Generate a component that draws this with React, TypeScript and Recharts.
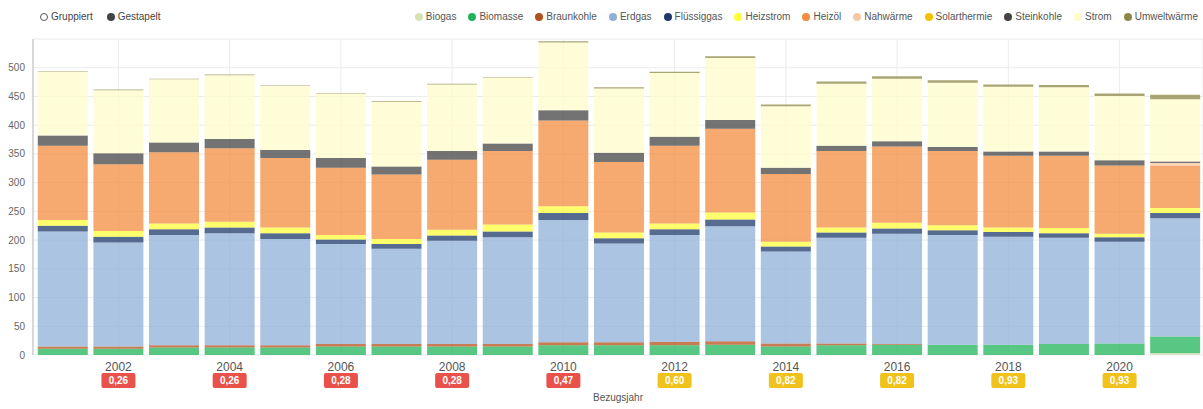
import { BarChart, Bar, XAxis, YAxis, CartesianGrid, Label } from "recharts"

// Bezugsjahre 2001 - 2021
const years = [
  "2001", "2002", "2003", "2004", "2005", "2006", "2007", "2008", "2009", "2010", "2011",
  "2012", "2013", "2014", "2015", "2016", "2017", "2018", "2019", "2020", "2021",
]

// Werte je Energieträger (von unten nach oben gestapelt)
const biogas       = [0, 0, 0, 0, 0, 0, 0, 0, 0, 0, 0, 0, 0, 0, 0, 0, 0, 0, 0, 0, 3]
const biomasse     = [11, 11, 13, 13, 13, 15, 15, 15, 15, 17, 17, 17, 18, 15, 17, 18, 18, 18, 19, 20, 29]
const braunkohle   = [4, 4, 4, 4, 4, 4, 4, 4, 4, 5, 5, 6, 6, 5, 3, 1, 0, 0, 0, 0, 0]
const erdgas       = [200, 181, 192, 195, 185, 174, 166, 180, 186, 213, 172, 186, 200, 160, 184, 192, 191, 188, 185, 177, 206]
const fluessiggas  = [10, 10, 10, 10, 10, 8, 8, 9, 10, 12, 9, 10, 12, 9, 9, 9, 8, 8, 8, 8, 9]
const heizstrom    = [10, 10, 10, 10, 10, 8, 9, 10, 12, 12, 10, 10, 12, 8, 9, 10, 9, 8, 9, 6, 9]
const heizoel      = [129, 116, 124, 128, 121, 117, 112, 122, 128, 149, 123, 135, 146, 118, 133, 133, 129, 125, 126, 119, 74]
const nahwaerme    = [0, 0, 0, 0, 0, 0, 0, 0, 0, 0, 0, 0, 0, 0, 0, 0, 0, 0, 0, 0, 4]
const solarthermie = [0, 0, 0, 0, 0, 0, 0, 0, 0, 0, 0, 0, 0, 0, 0, 0, 0, 0, 0, 0, 0]
const steinkohle   = [18, 19, 17, 16, 14, 17, 14, 15, 13, 18, 16, 16, 15, 11, 9, 9, 7, 7, 7, 9, 3]
const strom        = [111, 110, 110, 111, 111, 112, 113, 116, 115, 118, 112, 111, 108, 107, 108, 109, 112, 113, 112, 112, 108]
const umweltwaerme = [1, 1, 1, 1, 1, 1, 1, 1, 1, 2, 2, 2, 3, 3, 4, 4, 4, 4, 4, 4, 8]

// Achsenbeschriftung + Kennzahl-Badges
const tickYears   = ["2002", "2004", "2006", "2008", "2010", "2012", "2014", "2016", "2018", "2020"]
const badgeValues = ["0,26", "0,26", "0,28", "0,28", "0,47", "0,60", "0,82", "0,82", "0,93", "0,93"]
const badgeLevels = ["rot", "rot", "rot", "rot", "rot", "gelb", "gelb", "gelb", "gelb", "gelb"]
const yTicks      = [0, 50, 100, 150, 200, 250, 300, 350, 400, 450, 500]

const SERIES = [
  { name: "Biogas",       color: "#d6e2b4", values: biogas },
  { name: "Biomasse",     color: "#1fb45a", values: biomasse },
  { name: "Braunkohle",   color: "#b4501a", values: braunkohle },
  { name: "Erdgas",       color: "#8fb0d8", values: erdgas },
  { name: "Flüssiggas",   color: "#1e3a6b", values: fluessiggas },
  { name: "Heizstrom",    color: "#ffff3a", values: heizstrom },
  { name: "Heizöl",       color: "#f48d40", values: heizoel },
  { name: "Nahwärme",     color: "#f8c7a3", values: nahwaerme },
  { name: "Solarthermie", color: "#f5c000", values: solarthermie },
  { name: "Steinkohle",   color: "#444444", values: steinkohle },
  { name: "Strom",        color: "#fffcc9", values: strom },
  { name: "Umweltwärme",  color: "#8d8845", values: umweltwaerme },
]

const data = years.map((jahr, i) => {
  const row: Record<string, string | number> = { jahr }
  SERIES.forEach((s) => { row[s.name] = s.values[i] })
  return row
})

const FONT = "'Liberation Sans', Arial, sans-serif"

function YearTick({ x, y, payload }: any) {
  const i = tickYears.indexOf(payload.value)
  const badge = badgeValues[i]
  const fill = badgeLevels[i] === "rot" ? "#e8524a" : "#f0c21c"
  return (
    <g transform={`translate(${x},${y})`}>
      <text y={8} textAnchor="middle" fontSize={12} fill="#555" fontFamily={FONT}>
        {payload.value}
      </text>
      {badge && (
        <>
          <rect x={-17} y={10} width={34} height={15} rx={2} fill={fill} />
          <text y={21} textAnchor="middle" fontSize={10} fontWeight="bold" fill="#fff" fontFamily={FONT}>
            {badge}
          </text>
        </>
      )}
    </g>
  )
}

function Dot({ color, hollow }: { color: string; hollow?: boolean }) {
  return (
    <span
      style={{
        display: "inline-block",
        width: hollow ? 6 : 8,
        height: hollow ? 6 : 8,
        borderRadius: "50%",
        background: hollow ? "#fff" : color,
        border: hollow ? `1.5px solid ${color}` : "none",
        marginRight: 3,
      }}
    />
  )
}

export default function App() {
  return (
    <div style={{ position: "absolute", left: 0, top: 0, width: 1203, height: 409, background: "#fff", fontFamily: FONT }}>
      <div style={{ position: "absolute", left: 40, top: 11, display: "flex", gap: 14, fontSize: 10, color: "#444", alignItems: "center" }}>
        <span style={{ display: "flex", alignItems: "center" }}><Dot color="#555" hollow />Gruppiert</span>
        <span style={{ display: "flex", alignItems: "center" }}><Dot color="#444" />Gestapelt</span>
      </div>
      <div
        style={{
          position: "absolute", right: 5, top: 11, display: "flex", gap: 12,
          fontSize: 10, color: "#555", alignItems: "center",
        }}
      >
        {SERIES.map((s) => (
          <span key={s.name} style={{ display: "flex", alignItems: "center" }}>
            <Dot color={s.color} />{s.name}
          </span>
        ))}
      </div>
      <BarChart
        width={1203}
        height={409}
        data={data}
        barCategoryGap="5%"
        margin={{ top: 39, right: 0, left: 0, bottom: 14 }}
      >
        <CartesianGrid stroke="#ececec" />
        <XAxis
          dataKey="jahr"
          ticks={tickYears}
          interval={0}
          height={40}
          padding={{ left: 2, right: 0 }}
          axisLine={false}
          tickLine={false}
          tick={<YearTick />}
        >
          <Label value="Bezugsjahr" position="insideBottom" offset={-6} fontSize={10} fill="#555" fontFamily={FONT} />
        </XAxis>
        <YAxis
          width={33}
          domain={[0, 550]}
          ticks={yTicks}
          axisLine={{ stroke: "#bbb" }}
          tickLine={false}
          tick={{ fontSize: 10, fill: "#666", fontFamily: FONT }}
        />
        {SERIES.map((s) => (
          <Bar
            key={s.name}
            dataKey={s.name}
            stackId="a"
            fill={s.color}
            fillOpacity={0.75}
            isAnimationActive={false}
          />
        ))}
      </BarChart>
    </div>
  )
}
